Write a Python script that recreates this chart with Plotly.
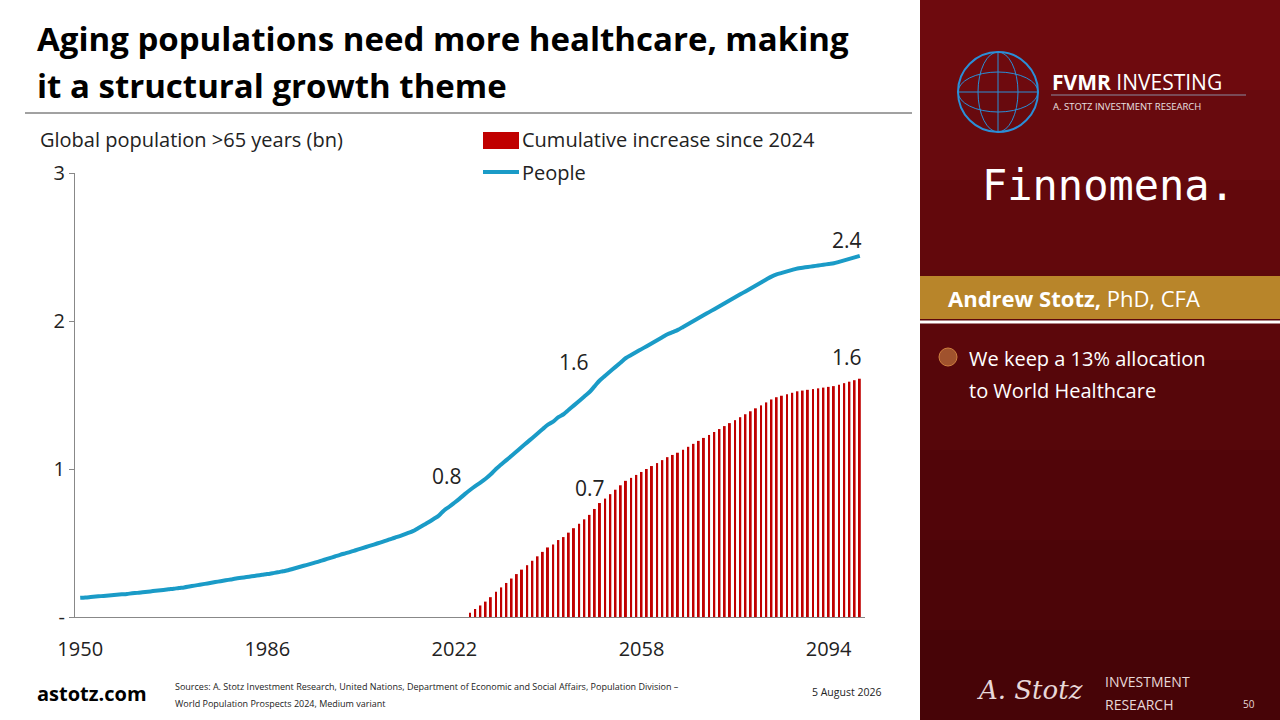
import plotly.graph_objects as go

years = list(range(1950, 2101))
people = [
    0.130, 0.132, 0.135, 0.138, 0.141, 0.144, 0.147, 0.150, 0.153, 0.156,
    0.160, 0.163, 0.167, 0.171, 0.175, 0.179, 0.183, 0.187, 0.191, 0.196,
    0.200, 0.206, 0.212, 0.218, 0.224, 0.230, 0.236, 0.242, 0.248, 0.254,
    0.260, 0.265, 0.270, 0.275, 0.280, 0.285, 0.290, 0.296, 0.302, 0.309,
    0.316, 0.326, 0.336, 0.346, 0.356, 0.366, 0.376, 0.387, 0.398, 0.409,
    0.420, 0.430, 0.440, 0.451, 0.462, 0.473, 0.484, 0.495, 0.506, 0.518,
    0.530, 0.541, 0.553, 0.566, 0.580, 0.600, 0.620, 0.640, 0.662, 0.685,
    0.720, 0.745, 0.772, 0.800, 0.830, 0.858, 0.884, 0.908, 0.934, 0.964,
    1.00, 1.03, 1.06, 1.09, 1.12, 1.15, 1.18, 1.21, 1.24, 1.27,
    1.30, 1.32, 1.35, 1.37, 1.40, 1.43, 1.46, 1.49, 1.52, 1.56,
    1.60, 1.63, 1.66, 1.69, 1.72, 1.75, 1.77, 1.79, 1.81, 1.83,
    1.85, 1.87, 1.89, 1.91, 1.925, 1.94, 1.96, 1.98, 2.00, 2.02,
    2.04, 2.06, 2.08, 2.10, 2.12, 2.14, 2.16, 2.18, 2.20, 2.22,
    2.24, 2.26, 2.28, 2.30, 2.315, 2.325, 2.335, 2.345, 2.355, 2.36,
    2.365, 2.37, 2.375, 2.38, 2.385, 2.39, 2.40, 2.41, 2.42, 2.43,
    2.44,
]
bar_years = list(range(2025, 2101))
cum_increase = [
    0.028, 0.054, 0.078, 0.104, 0.134,
    0.17, 0.20, 0.23, 0.26, 0.29, 0.32, 0.35, 0.38, 0.41, 0.44,
    0.47, 0.49, 0.52, 0.54, 0.57, 0.60, 0.63, 0.66, 0.69, 0.73,
    0.77, 0.80, 0.83, 0.86, 0.89, 0.92, 0.94, 0.96, 0.98, 1.00,
    1.02, 1.04, 1.06, 1.08, 1.095, 1.11, 1.13, 1.15, 1.17, 1.19,
    1.21, 1.23, 1.25, 1.27, 1.29, 1.31, 1.33, 1.35, 1.37, 1.39,
    1.41, 1.43, 1.45, 1.47, 1.485, 1.495, 1.505, 1.515, 1.525, 1.53,
    1.535, 1.54, 1.545, 1.55, 1.555, 1.56, 1.57, 1.58, 1.59, 1.60,
    1.61,
]
x_ticks = [1950, 1986, 2022, 2058, 2094]
y_ticks = [0, 1, 2, 3]
y_tick_labels = ["-", "1", "2", "3"]

FONT = "Open Sans"
RED = "#c00000"
BLUE = "#1a9bc7"

fig = go.Figure()
fig.add_trace(go.Bar(x=bar_years, y=cum_increase, marker=dict(color=RED, line=dict(width=0)),
                     name="Cumulative increase since 2024"))
fig.add_trace(go.Scatter(x=years, y=people, mode="lines", line=dict(color=BLUE, width=4, shape="spline"),
                         name="People"))

# value labels: (x position, y position, text)
labels = [(2020.5, 0.95, "0.8"), (2045, 1.72, "1.6"), (2048, 0.87, "0.7"),
          (2097.5, 2.55, "2.4"), (2097.5, 1.76, "1.6")]
for x, ypos, t in labels:
    fig.add_annotation(x=x, y=ypos, text=t, showarrow=False,
                       font=dict(size=21, color="#222", family=FONT))

ann = [
    dict(x=35, y=38, text="<b>Aging populations need more healthcare, making</b>", size=33, color="black"),
    dict(x=35, y=85, text="<b>it a structural growth theme</b>", size=33, color="black"),
    dict(x=38, y=140, text="Global population >65 years (bn)", size=20, color="#222"),
    dict(x=520, y=140, text="Cumulative increase since 2024", size=20, color="#222"),
    dict(x=520, y=172, text="People", size=20, color="#222"),
    dict(x=35, y=693, text="<b>astotz.com</b>", size=20, color="black"),
    dict(x=173, y=686, text="Sources: A. Stotz Investment Research, United Nations, Department of Economic and Social Affairs, Population Division –", size=9, color="#222"),
    dict(x=173, y=703, text="World Population Prospects 2024, Medium variant", size=9, color="#222"),
    dict(x=810, y=692, text="5 August 2026", size=10.5, color="#222"),
    dict(x=1050, y=82, text="<b>FVMR</b> INVESTING", size=21, color="white"),
    dict(x=1051, y=106, text="A. STOTZ INVESTMENT RESEARCH", size=9.5, color="#e8e0e0"),
    dict(x=980, y=186, text="Finnomena.", size=42, color="white", family="DejaVu Sans Mono"),
    dict(x=946, y=298, text="<b>Andrew Stotz,</b> PhD, CFA", size=22, color="white"),
    dict(x=967, y=358, text="We keep a 13% allocation", size=20, color="white"),
    dict(x=967, y=390, text="to World Healthcare", size=20, color="white"),
    dict(x=975, y=690, text="<i>A. Stotz</i>", size=26, color="#e8d8d8", family="DejaVu Serif"),
    dict(x=1103, y=681, text="INVESTMENT", size=14, color="#e8d8d8"),
    dict(x=1103, y=704, text="RESEARCH", size=14, color="#e8d8d8"),
    dict(x=1241, y=704, text="50", size=10, color="#e8d8d8"),
]
for a in ann:
    fig.add_annotation(x=a["x"] / 1280, y=1 - a["y"] / 720, xref="paper", yref="paper",
                       xanchor="left", yanchor="middle", showarrow=False, text=a["text"],
                       font=dict(size=a["size"], color=a["color"], family=a.get("family", FONT)))

def px(x0, y0, x1, y1):
    return dict(x0=x0 / 1280, x1=x1 / 1280, y0=1 - y0 / 720, y1=1 - y1 / 720, xref="paper", yref="paper")

shapes = [
    dict(type="line", line=dict(color="#444", width=1), **px(25, 113, 912, 113)),
    dict(type="rect", fillcolor=RED, line=dict(width=0), **px(483, 132, 519, 149)),
    dict(type="line", line=dict(color=BLUE, width=4), **px(483, 172, 519, 172)),
]
# right panel, rough vertical gradient
panel = ["#6e0a0e", "#680a0e", "#62080c", "#5c070b", "#56060a", "#510509", "#4c0508", "#470407"]
for i, c in enumerate(panel):
    shapes.append(dict(type="rect", fillcolor=c, line=dict(width=0), layer="below",
                       **px(920, i * 90, 1280, (i + 1) * 90)))
shapes += [
    dict(type="rect", fillcolor="#b8852a", line=dict(width=0), **px(920, 276, 1280, 319)),
    dict(type="line", line=dict(color="white", width=3), **px(920, 322, 1280, 322)),
    dict(type="circle", line=dict(color="#2a8fd8", width=2), **px(958, 52, 1038, 132)),
    dict(type="circle", line=dict(color="#2a8fd8", width=1), **px(978, 52, 1018, 132)),
    dict(type="circle", line=dict(color="#2a8fd8", width=1), **px(958, 72, 1038, 112)),
    dict(type="line", line=dict(color="#2a8fd8", width=1), **px(998, 52, 998, 132)),
    dict(type="line", line=dict(color="#2a8fd8", width=1), **px(958, 92, 1038, 92)),
    dict(type="line", line=dict(color="#8a8aa0", width=1), **px(1051, 95, 1246, 95)),
    dict(type="circle", fillcolor="#a0522d", line=dict(color="#d08040", width=1), **px(939, 348, 957, 366)),
]
fig.update_layout(shapes=shapes)

fig.update_layout(
    width=1280, height=720, margin=dict(l=0, r=0, t=0, b=0, autoexpand=False),
    paper_bgcolor="white", plot_bgcolor="white", showlegend=False,
    bargap=0.62, font=dict(family=FONT),
    xaxis=dict(domain=[75 / 1280, 865 / 1280], range=[1949, 2101], tickvals=x_ticks,
               showgrid=False, showline=True, linecolor="#888", linewidth=1, ticks="",
               ticklabelstandoff=14, tickfont=dict(size=20, color="#222"), zeroline=False,
               automargin=False),
    yaxis=dict(domain=[1 - 617 / 720, 1 - 173 / 720], range=[0, 3], tickvals=y_ticks,
               ticktext=y_tick_labels, showgrid=False, showline=True, linecolor="#888",
               ticks="outside", ticklen=5, tickcolor="#888", tickfont=dict(size=20, color="#222"),
               zeroline=False, automargin=False),
)

fig.write_html("out.html", config={"displayModeBar": False},
               post_script="document.body.style.margin='0';document.body.style.overflow='hidden';")
